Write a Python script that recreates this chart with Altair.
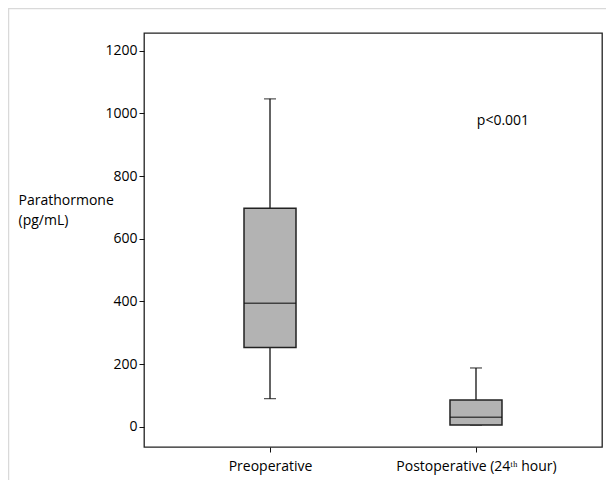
import altair as alt
import pandas as pd

categories = ["Preoperative", "Postoperative (24ᵗʰ hour)"]
whisker_low = [90, 6]
q1 = [253, 6]
median = [394, 31]
q3 = [697, 86]
whisker_high = [1046, 188]
y_ticks = [0, 200, 400, 600, 800, 1000, 1200]
p_text = "p<0.001"
p_y = 975

df = pd.DataFrame({
    "group": categories,
    "lo": whisker_low,
    "q1": q1,
    "med": median,
    "q3": q3,
    "hi": whisker_high,
})

FONT = "Open Sans"
FS = 14

x = alt.X("group:N", sort=categories,
          scale=alt.Scale(type="point", padding=0.6117),
          axis=alt.Axis(title=None, labelAngle=0, labelFontSize=FS, labelFont=FONT,
                        labelColor="#000", tickSize=5, tickColor="#111",
                        labelPadding=7, domain=False))
yscale = alt.Scale(domain=[-64, 1256], nice=False, zero=False)
y_axis = alt.Axis(values=y_ticks, format="d", grid=False, tickSize=5, tickColor="#111",
                  labelFontSize=FS, labelFont=FONT, labelColor="#000", labelPadding=2,
                  domain=False,
                  title=["Parathormone", "(pg/mL)"], titleAngle=0, titleAlign="left",
                  titleBaseline="alphabetic", titleX=-126, titleY=171,
                  titleFont=FONT, titleFontSize=FS, titleFontWeight="normal",
                  titleColor="#000", titleLineHeight=20)

base = alt.Chart(df)

whisk_up = base.mark_rule(color="#111", strokeWidth=1.3).encode(
    x=x, y=alt.Y("q3:Q", scale=yscale, axis=y_axis), y2="hi:Q")
whisk_dn = base.mark_rule(color="#111", strokeWidth=1.3).encode(
    x=x, y=alt.Y("lo:Q", scale=yscale), y2="q1:Q")
cap_hi = base.mark_tick(color="#111", size=12, thickness=1.3).encode(
    x=x, y=alt.Y("hi:Q", scale=yscale))
cap_lo = base.mark_tick(color="#111", size=12, thickness=1.3).encode(
    x=x, y=alt.Y("lo:Q", scale=yscale))
box = base.mark_bar(size=52, fill="#b3b3b3", stroke="#222", strokeWidth=1.5).encode(
    x=x, y=alt.Y("q1:Q", scale=yscale), y2="q3:Q")
med = base.mark_tick(color="#111", size=52, thickness=1.5).encode(
    x=x, y=alt.Y("med:Q", scale=yscale))

ptext = alt.Chart(pd.DataFrame({"t": [p_text], "v": [p_y]})).mark_text(
    font=FONT, fontSize=FS, color="#000", align="center", baseline="middle").encode(
    x=alt.value(359), y=alt.Y("v:Q", scale=yscale), text="t:N")

frame = alt.Chart(pd.DataFrame({"a": [0]})).mark_rect(
    fill=None, stroke="#d9d9d9", strokeWidth=1.5, clip=False).encode(
    x=alt.value(-135.5), x2=alt.value(700), y=alt.value(-24.5), y2=alt.value(700))

chart = alt.layer(frame, whisk_up, whisk_dn, cap_hi, cap_lo, box, med, ptext).properties(
    width=458, height=414,
    autosize=alt.AutoSizeParams(type="none"),
    padding={"left": 136, "top": 25, "right": 4, "bottom": 33},
).configure(background="white").configure_view(stroke="#222", strokeWidth=1.3)

chart.save("out.html", embed_options={"renderer": "svg", "actions": False})
